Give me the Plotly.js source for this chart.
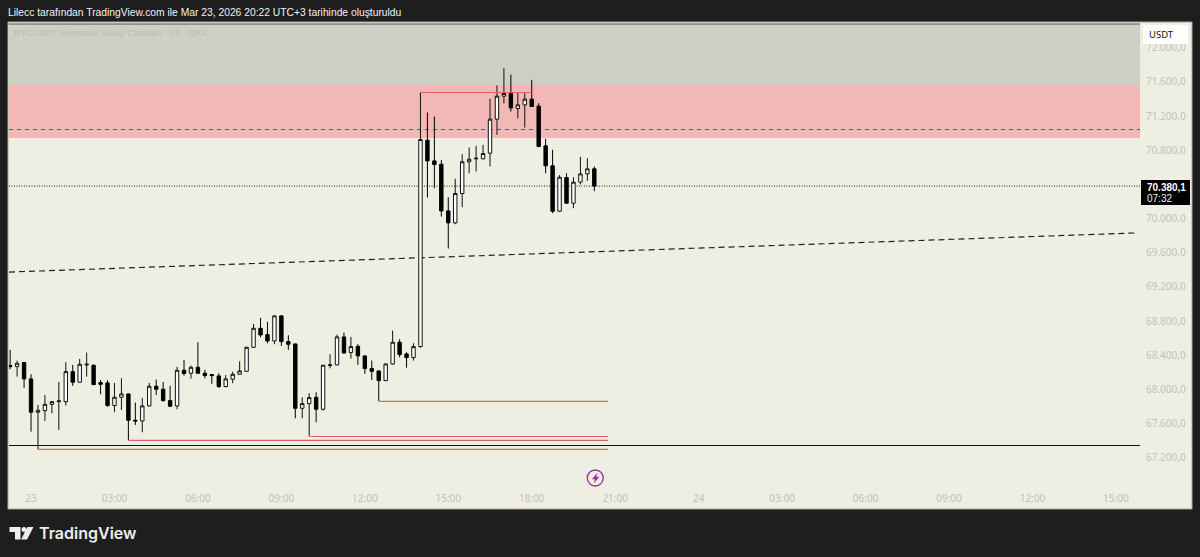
<!DOCTYPE html>
<html><head><meta charset="utf-8">
<script src="https://cdn.plot.ly/plotly-3.0.1.min.js"></script>
<style>html,body{margin:0;padding:0;background:#1e1e1e}#c{width:1200px;height:557px}</style>
</head><body><div id="c"></div>
<script>
const times=["2026-03-22 23:15","2026-03-22 23:30","2026-03-22 23:45","2026-03-23 00:00","2026-03-23 00:15","2026-03-23 00:30","2026-03-23 00:45","2026-03-23 01:00","2026-03-23 01:15","2026-03-23 01:30","2026-03-23 01:45","2026-03-23 02:00","2026-03-23 02:15","2026-03-23 02:30","2026-03-23 02:45","2026-03-23 03:00","2026-03-23 03:15","2026-03-23 03:30","2026-03-23 03:45","2026-03-23 04:00","2026-03-23 04:15","2026-03-23 04:30","2026-03-23 04:45","2026-03-23 05:00","2026-03-23 05:15","2026-03-23 05:30","2026-03-23 05:45","2026-03-23 06:00","2026-03-23 06:15","2026-03-23 06:30","2026-03-23 06:45","2026-03-23 07:00","2026-03-23 07:15","2026-03-23 07:30","2026-03-23 07:45","2026-03-23 08:00","2026-03-23 08:15","2026-03-23 08:30","2026-03-23 08:45","2026-03-23 09:00","2026-03-23 09:15","2026-03-23 09:30","2026-03-23 09:45","2026-03-23 10:00","2026-03-23 10:15","2026-03-23 10:30","2026-03-23 10:45","2026-03-23 11:00","2026-03-23 11:15","2026-03-23 11:30","2026-03-23 11:45","2026-03-23 12:00","2026-03-23 12:15","2026-03-23 12:30","2026-03-23 12:45","2026-03-23 13:00","2026-03-23 13:15","2026-03-23 13:30","2026-03-23 13:45","2026-03-23 14:00","2026-03-23 14:15","2026-03-23 14:30","2026-03-23 14:45","2026-03-23 15:00","2026-03-23 15:15","2026-03-23 15:30","2026-03-23 15:45","2026-03-23 16:00","2026-03-23 16:15","2026-03-23 16:30","2026-03-23 16:45","2026-03-23 17:00","2026-03-23 17:15","2026-03-23 17:30","2026-03-23 17:45","2026-03-23 18:00","2026-03-23 18:15","2026-03-23 18:30","2026-03-23 18:45","2026-03-23 19:00","2026-03-23 19:15","2026-03-23 19:30","2026-03-23 19:45","2026-03-23 20:00","2026-03-23 20:15"];
const opens=[68281,68269,68316,68125,67735,67754,67828,67859,67859,68210,68086,68288,68285,68082,68078,67813,67910,67949,67641,67633,67809,68039,68004,67871,67809,68226,68191,68261,68191,68175,68160,68035,68121,68179,68214,68495,68717,68643,68569,68862,68561,68534,67781,67836,67910,67770,68281,68289,68616,68433,68507,68394,68246,68218,68105,68300,68554,68417,68374,68503,70917,70675,70636,70090,69950,70293,70664,70699,70699,70765,71163,71432,71463,71288,71330,71397,71315,70851,70617,70086,70480,70180,70426,70523,70582];
const highs=[68464,68339,68320,68179,67820,67937,67867,68090,68320,68288,68359,68433,68290,68113,68109,68078,68132,67952,67848,67902,68078,68117,68090,68043,68265,68347,68281,68554,68230,68183,68191,68171,68210,68331,68500,68768,68838,68792,68866,68870,68636,68536,67910,67957,67969,68288,68413,68643,68667,68616,68530,68398,68339,68220,68303,68690,68589,68437,68542,71475,71241,71194,70687,70250,70465,70753,70831,70851,70862,71401,71557,71759,71685,71479,71467,71623,71350,70933,70804,70508,70531,70484,70722,70706,70609];
const lows=[68238,68152,68019,67508,67302,67633,67723,67528,67813,68043,68082,68152,68055,67945,67801,67735,67762,67411,67586,67501,67801,67937,67859,67797,67770,68164,68129,68187,68132,68066,68019,68027,68074,68175,68210,68487,68612,68542,68530,68511,68464,67664,67664,67458,67618,67754,68249,68285,68417,68363,68289,68183,68113,67867,68101,68292,68378,68257,68339,68490,70246,70355,70024,69650,69934,70133,70531,70550,70695,70609,70979,71346,71252,71171,71065,71305,70835,70531,70063,70082,70176,70121,70398,70441,70320];
const closes=[68269,68308,68125,67735,67758,67828,67859,67867,68210,68086,68296,68296,68058,68062,67813,67910,67949,67641,67633,67809,68039,68004,67871,67805,68226,68187,68261,68191,68164,68164,68035,68125,68179,68218,68495,68717,68639,68569,68862,68561,68530,67781,67836,67906,67770,68285,68289,68616,68429,68503,68394,68246,68214,68105,68300,68554,68409,68374,68503,70925,70675,70632,70090,69950,70293,70664,70695,70706,70761,71163,71432,71463,71295,71330,71397,71311,70843,70617,70086,70484,70180,70426,70523,70582,70380.1];
const xTickVals=["2026-03-23 00:00","2026-03-23 03:00","2026-03-23 06:00","2026-03-23 09:00","2026-03-23 12:00","2026-03-23 15:00","2026-03-23 18:00","2026-03-23 21:00","2026-03-24 00:00","2026-03-24 03:00","2026-03-24 06:00","2026-03-24 09:00","2026-03-24 12:00","2026-03-24 15:00"];
const xTickText=["23","03:00","06:00","09:00","12:00","15:00","18:00","21:00","24","03:00","06:00","09:00","12:00","15:00"];
const yTickVals=[67200,67600,68000,68400,68800,69200,69600,70000,70800,71200,71600,72000];
const xRange=["2026-03-22 23:12:30","2026-03-24 15:52"];
const yRange=[66615,72276];
const redLevels=[67300,67405,67451,67861,71475];
const redStarts=["2026-03-23 00:15","2026-03-23 03:30","2026-03-23 10:00","2026-03-23 12:30","2026-03-23 14:00"];
const redEnds=["2026-03-23 20:45","2026-03-23 20:45","2026-03-23 20:45","2026-03-23 20:45","2026-03-23 18:00"];
const greyZone=[71563,72276],redZone=[70943,71563];
const dashedLevel=71042,blackLevel=67346,lastPrice=70380.1;
const trendX=["2026-03-22 23:12:30","2026-03-24 15:43"],trendY=[69375,69832];

const L=9,R=1140,T=24,B=508;
const px=x=>(x-L)/(R-L),py=y=>(B-y)/(B-T);
const dataLine=(x0,x1,y,color,width,dash,ln)=>({type:'line',xref:'x',yref:'y',x0,x1,y0:y,y1:y,line:{color,width,dash},layer:ln||'above'});
const pRect=(x0,x1,y0,y1,fill)=>({type:'rect',xref:'paper',yref:'paper',x0:px(x0),x1:px(x1),y0:py(y1),y1:py(y0),fillcolor:fill,line:{width:0},layer:'above'});
const shapes=[
 {type:'rect',xref:'paper',yref:'paper',x0:px(8),x1:px(1192),y0:py(509),y1:py(22),fillcolor:'#efeee2',line:{color:'#a8a89c',width:1},layer:'below'},
 {type:'rect',xref:'x',yref:'y',x0:xRange[0],x1:xRange[1],y0:greyZone[0],y1:greyZone[1],fillcolor:'#cfcfc7',line:{width:0},layer:'below'},
 {type:'rect',xref:'x',yref:'y',x0:xRange[0],x1:xRange[1],y0:redZone[0],y1:redZone[1],fillcolor:'#f2b8b5',line:{width:0},layer:'below'},
 {type:'line',xref:'paper',yref:'paper',x0:0,x1:1,y0:1,y1:1,line:{color:'#55554f',width:1},layer:'above'},
 dataLine(xRange[0],xRange[1],dashedLevel,'#555',1,'4px,4px','below'),
 dataLine(xRange[0],xRange[1],lastPrice,'#222',1,'1px,1.5px','below'),
 dataLine(xRange[0],xRange[1],blackLevel,'#111',1,'solid','below'),
 {type:'line',xref:'x',yref:'y',x0:trendX[0],x1:trendX[1],y0:trendY[0],y1:trendY[1],line:{color:'#222',width:1.2,dash:'6px,4px'},layer:'below'},
 ...redLevels.map((v,i)=>dataLine(redStarts[i],redEnds[i],v,'#e0616b',1.2,'solid','above')),
 pRect(1143,1188,25,44,'#ffffff'),
 pRect(1141,1190,180,205,'#000000'),
 {type:'path',xref:'paper',yref:'paper',path:`M${px(597.5)},${py(472.5)}L${px(592)},${py(479.2)}L${px(595)},${py(479.2)}L${px(593.8)},${py(483.5)}L${px(599.2)},${py(476.8)}L${px(596.2)},${py(476.8)}Z`,fillcolor:'#9c27b0',line:{width:0},layer:'above'},
 {type:'path',xref:'paper',yref:'paper',path:`M${px(9.5)},${py(527)}L${px(20.5)},${py(527)}L${px(20.5)},${py(539.5)}L${px(15)},${py(539.5)}L${px(15)},${py(532)}L${px(9.5)},${py(532)}Z`,fillcolor:'#eeeeee',line:{width:0},layer:'above'},
 {type:'circle',xref:'paper',yref:'paper',x0:px(21.5),x1:px(26.5),y0:py(532),y1:py(527),fillcolor:'#eeeeee',line:{width:0},layer:'above'},
 {type:'path',xref:'paper',yref:'paper',path:`M${px(27.5)},${py(527)}L${px(33.5)},${py(527)}L${px(27)},${py(539.5)}L${px(21)},${py(539.5)}Z`,fillcolor:'#eeeeee',line:{width:0},layer:'above'}
];
const annotations=[
 {xref:'paper',yref:'paper',x:px(6),y:py(12),xanchor:'left',yanchor:'middle',showarrow:false,text:'Lilecc tarafından TradingView.com ile Mar 23, 2026 20:22 UTC+3 tarihinde oluşturuldu',font:{family:'Liberation Sans',size:10.3,color:'#f2f2f2'}},
 {xref:'paper',yref:'paper',x:px(12),y:py(33),xanchor:'left',yanchor:'middle',showarrow:false,text:'BTCUSDT Perpetual Swap Contract · 15 · OKX',font:{family:'Liberation Sans',size:9.2,color:'#bdbdb4'}},
 {xref:'paper',yref:'paper',x:px(37),y:py(533),xanchor:'left',yanchor:'middle',showarrow:false,text:'TradingView',font:{family:'Inter',size:16,weight:600,color:'#eeeeee'}},
 {xref:'paper',yref:'paper',x:px(1161),y:py(35),xanchor:'center',yanchor:'middle',showarrow:false,text:'USDT',font:{family:'Noto Sans',size:9.5,color:'#111'}},
 {xref:'paper',yref:'paper',x:px(1145),y:py(187),xanchor:'left',yanchor:'middle',showarrow:false,text:'<b>70.380,1</b>',font:{family:'Liberation Sans',size:10,color:'#ffffff'}},
 {xref:'paper',yref:'paper',x:px(1145),y:py(198),xanchor:'left',yanchor:'middle',showarrow:false,text:'07:32',font:{family:'Liberation Sans',size:10,color:'#f0f0f0'}}
];
const traces=[
 {type:'candlestick',x:times,open:opens,high:highs,low:lows,close:closes,whiskerwidth:0,
  increasing:{line:{color:'#111',width:1},fillcolor:'#ffffff'},
  decreasing:{line:{color:'#000',width:1},fillcolor:'#000000'},showlegend:false,hoverinfo:'skip'},
 {type:'scatter',mode:'markers',x:['2026-03-23 20:17'],y:[66966],marker:{symbol:'circle',size:16,color:'#efeee2',line:{color:'#9c27b0',width:1.3}},showlegend:false,hoverinfo:'skip'}
];
const layout={
 width:1200,height:557,margin:{l:L,r:1200-R,t:T,b:557-B,pad:0},
 paper_bgcolor:'#1e1e1e',plot_bgcolor:'rgba(0,0,0,0)',showlegend:false,separators:',.',
 xaxis:{type:'date',range:xRange,showgrid:false,zeroline:false,showline:false,rangeslider:{visible:false},
  tickmode:'array',tickvals:xTickVals,ticktext:xTickText,ticks:'',ticklabelposition:'inside',ticklabelstandoff:1,
  tickfont:{family:'Noto Sans',size:10,color:'#bfbfb6'}},
 yaxis:{side:'right',range:yRange,showgrid:false,zeroline:false,showline:false,tickmode:'array',tickvals:yTickVals,tickformat:',.1f',ticks:'',ticklabelstandoff:5,
  tickfont:{family:'Noto Sans',size:10,color:'#c2c2b9'}},
 shapes,annotations
};
Plotly.newPlot('c',traces,layout,{displayModeBar:false,staticPlot:true});
</script></body></html>
